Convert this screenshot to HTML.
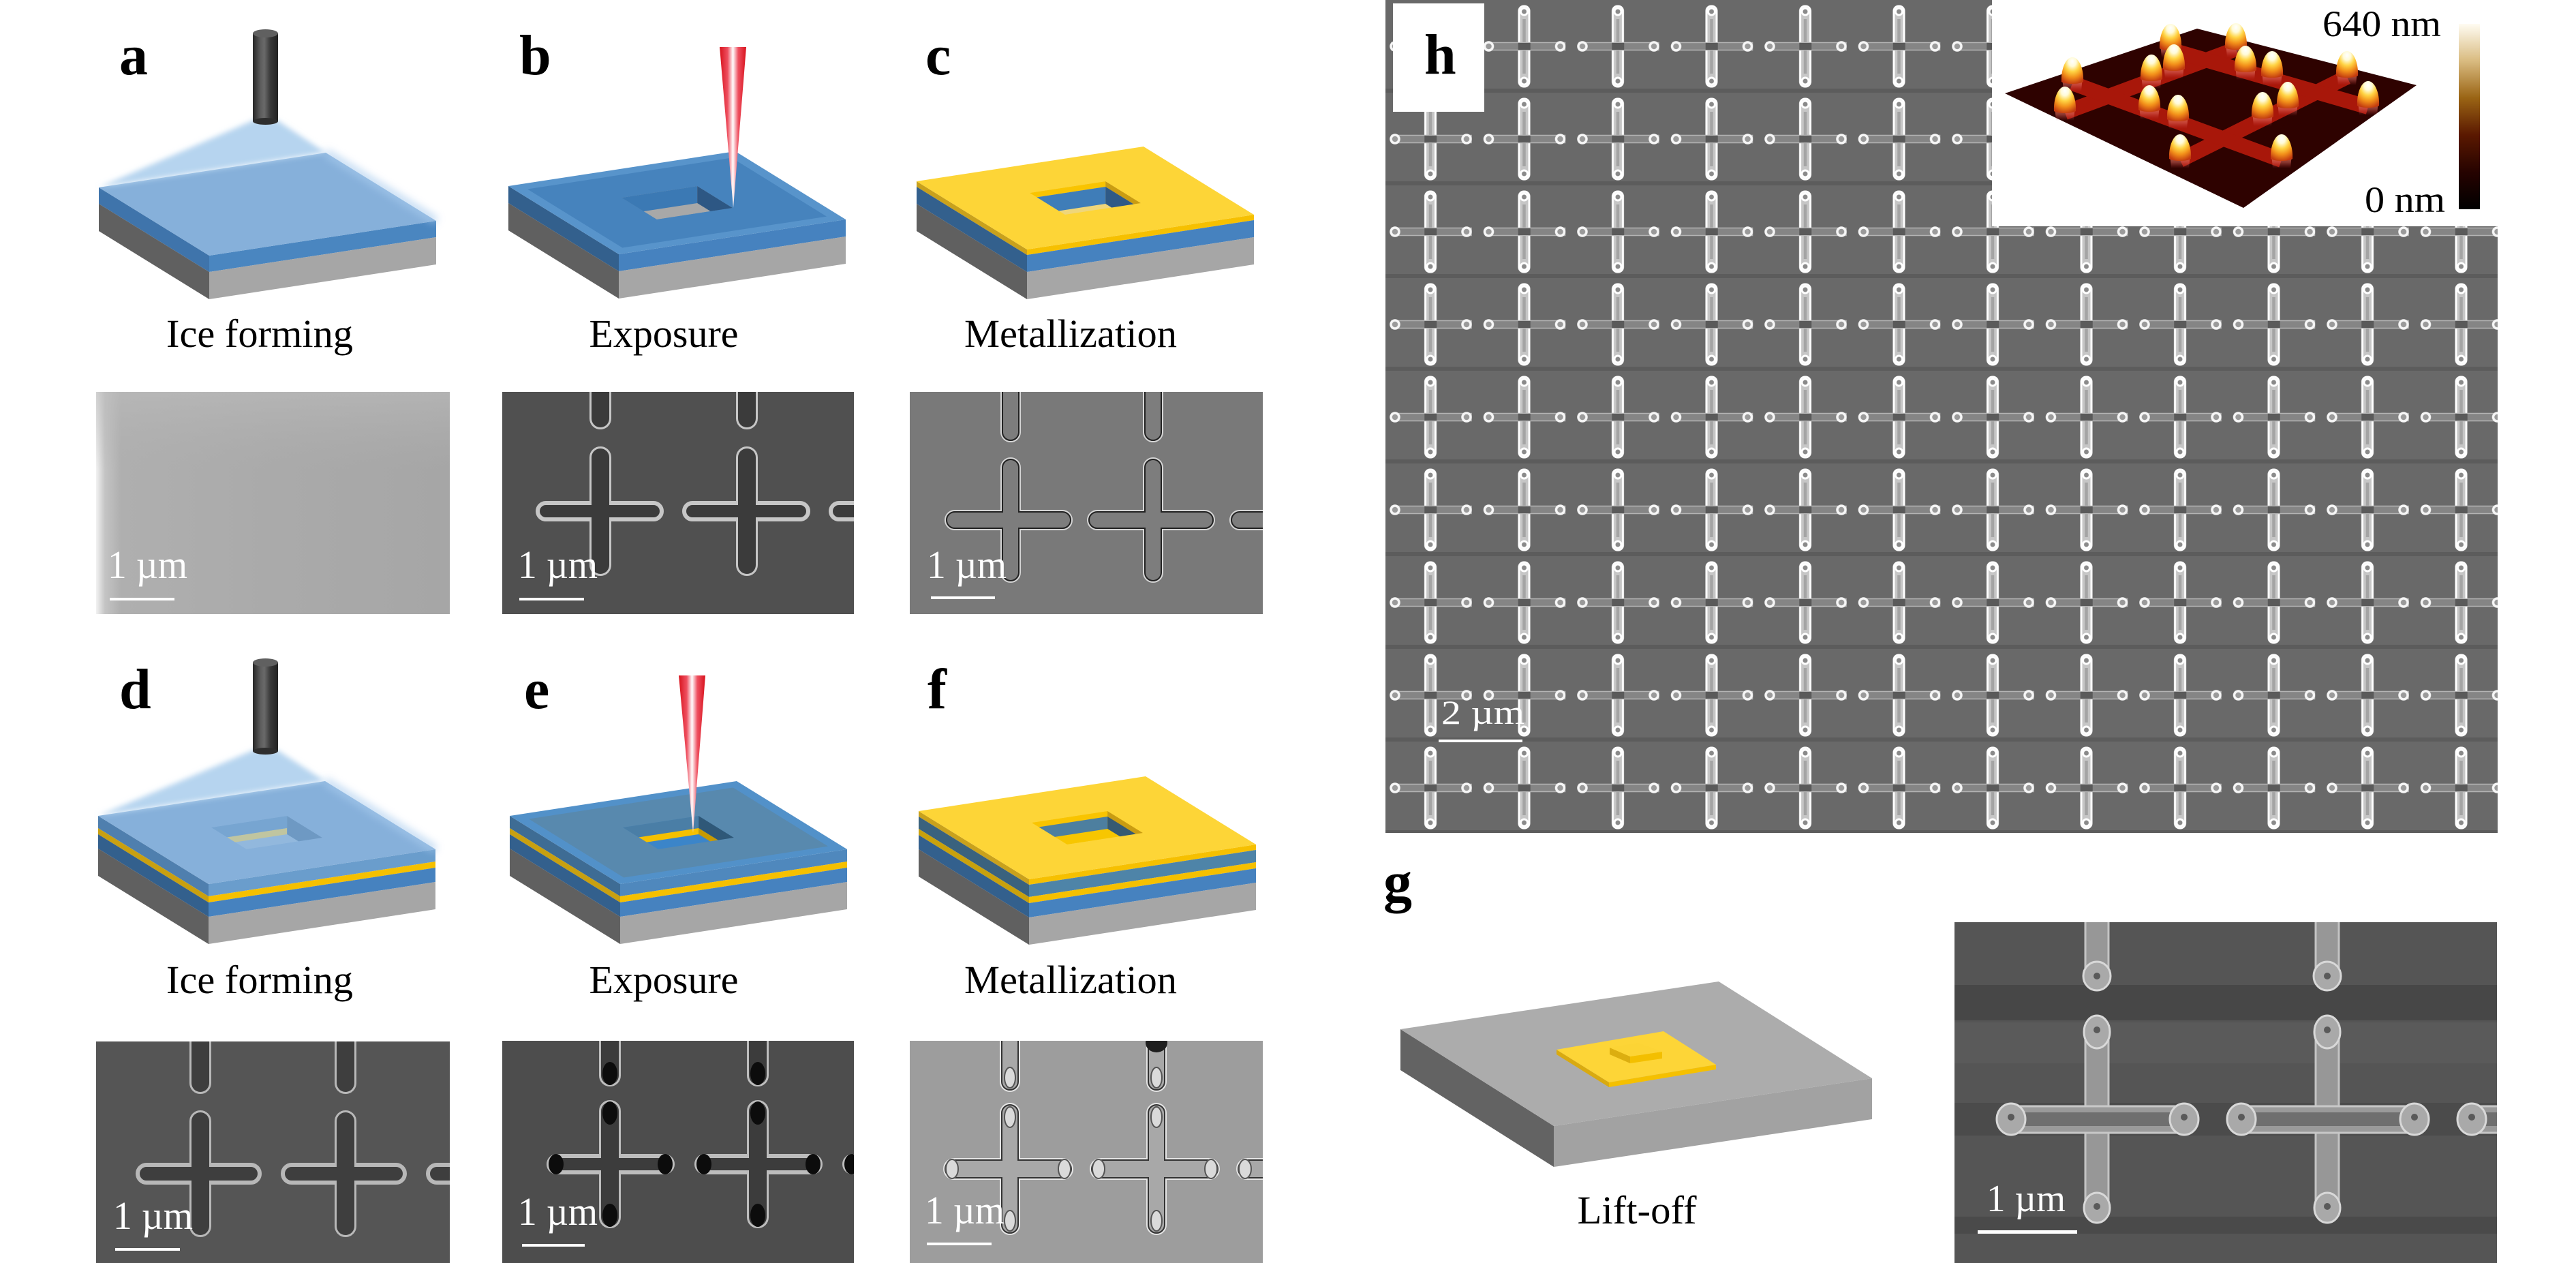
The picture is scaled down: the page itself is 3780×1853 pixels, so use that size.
<!DOCTYPE html>
<html><head><meta charset="utf-8"><style>
html,body{margin:0;padding:0;background:#fff;}
svg{display:block;}
text{font-family:"Liberation Serif","Times New Roman",serif;}
.lbl{font-weight:bold;font-size:84px;fill:#000;}
.cap{font-size:58px;fill:#000;}
.sb{font-size:58px;fill:#fff;}
</style></head><body>
<svg width="3780" height="1853" viewBox="0 0 3780 1853" xmlns="http://www.w3.org/2000/svg">
<defs>
 <linearGradient id="cyl" x1="0" x2="1" y1="0" y2="0">
  <stop offset="0" stop-color="#262626"/><stop offset="0.3" stop-color="#5c5c5c"/><stop offset="0.45" stop-color="#6a6a6a"/><stop offset="0.7" stop-color="#383838"/><stop offset="1" stop-color="#222"/>
 </linearGradient>
 <linearGradient id="laser" x1="0" x2="1" y1="0" y2="0">
  <stop offset="0" stop-color="#d8121c"/><stop offset="0.3" stop-color="#ee5060"/><stop offset="0.5" stop-color="#ffffff"/><stop offset="0.7" stop-color="#ee5060"/><stop offset="1" stop-color="#d8121c"/>
 </linearGradient>
 <filter id="blur4" x="-20%" y="-20%" width="140%" height="140%"><feGaussianBlur stdDeviation="4"/></filter>
 <filter id="blur6" x="-20%" y="-20%" width="140%" height="140%"><feGaussianBlur stdDeviation="6"/></filter>
 <linearGradient id="semA" x1="0" x2="1" y1="0" y2="0">
  <stop offset="0" stop-color="#f2f2f2"/><stop offset="0.025" stop-color="#c4c4c4"/><stop offset="0.07" stop-color="#afafaf"/><stop offset="0.5" stop-color="#aaaaaa"/><stop offset="1" stop-color="#a6a6a6"/>
 </linearGradient>
 <linearGradient id="semAv" x1="0" x2="0" y1="0" y2="1">
  <stop offset="0" stop-color="#bcbcbc" stop-opacity="0.6"/><stop offset="0.35" stop-color="#b0b0b0" stop-opacity="0"/><stop offset="1" stop-color="#b0b0b0" stop-opacity="0"/>
 </linearGradient>
 <radialGradient id="bump" cx="0.5" cy="0.22" r="0.8" fx="0.5" fy="0.15">
  <stop offset="0" stop-color="#ffffff"/><stop offset="0.22" stop-color="#fffbd8"/><stop offset="0.45" stop-color="#ffd444"/><stop offset="0.7" stop-color="#f2901a"/><stop offset="1" stop-color="#c23a10"/>
 </radialGradient>
 <linearGradient id="trail" x1="0" x2="0" y1="0" y2="1">
  <stop offset="0" stop-color="#f08a40" stop-opacity="0.95"/><stop offset="0.6" stop-color="#e06a60" stop-opacity="0.5"/><stop offset="1" stop-color="#d04040" stop-opacity="0"/>
 </linearGradient>
 <linearGradient id="cbar" x1="0" x2="0" y1="0" y2="1">
  <stop offset="0" stop-color="#fffcf2"/><stop offset="0.2" stop-color="#d9bb80"/><stop offset="0.4" stop-color="#9a6414"/><stop offset="0.6" stop-color="#5a1800"/><stop offset="0.8" stop-color="#260300"/><stop offset="1" stop-color="#000"/>
 </linearGradient>
 <clipPath id="hole"><polygon points="166,17 277.2,0 329,32 217.8,49"/></clipPath>
 <clipPath id="ca"><rect x="141" y="575" width="519" height="326"/></clipPath>
 <clipPath id="cb"><rect x="737" y="575" width="516" height="326"/></clipPath>
 <clipPath id="cc"><rect x="1335" y="575" width="518" height="326"/></clipPath>
 <clipPath id="cd"><rect x="141" y="1528" width="519" height="325"/></clipPath>
 <clipPath id="ce"><rect x="737" y="1527" width="516" height="326"/></clipPath>
 <clipPath id="cf"><rect x="1335" y="1527" width="518" height="326"/></clipPath>
 <clipPath id="cg"><rect x="2868" y="1353" width="796" height="500"/></clipPath>

 <g id="crB">
  <rect x="-13" y="-92" width="26" height="184" rx="13" fill="#3b3b3b" stroke="#c6c6c6" stroke-width="6"/>
  <rect x="-92" y="-12" width="182" height="24" rx="12" fill="#3b3b3b" stroke="#c6c6c6" stroke-width="6"/>
  <rect x="-13" y="-92" width="26" height="184" rx="13" fill="#3b3b3b"/>
 </g>
 <g id="crD">
  <rect x="-13" y="-90" width="26" height="180" rx="13" fill="#3e3e3e" stroke="#b8b8b8" stroke-width="6"/>
  <rect x="-92" y="-13" width="179" height="26" rx="13" fill="#3e3e3e" stroke="#b8b8b8" stroke-width="6"/>
  <rect x="-13" y="-90" width="26" height="180" rx="13" fill="#3e3e3e"/>
 </g>
 <g id="crE">
  <rect x="-13" y="-91" width="26" height="182" rx="13" fill="#3c3c3c" stroke="#bdbdbd" stroke-width="6"/>
  <rect x="-90" y="-12" width="182" height="24" rx="12" fill="#3c3c3c" stroke="#bdbdbd" stroke-width="6"/>
  <rect x="-13" y="-91" width="26" height="182" rx="13" fill="#3c3c3c"/>
  <ellipse cx="0" cy="-75" rx="11" ry="17" fill="#0c0c0c"/>
  <ellipse cx="0" cy="75" rx="11" ry="17" fill="#0c0c0c"/>
  <ellipse cx="-79" cy="0" rx="11" ry="15" fill="#0c0c0c"/>
  <ellipse cx="81" cy="0" rx="11" ry="15" fill="#0c0c0c"/>
 </g>
 <g id="crC">
  <rect x="-11" y="-88" width="22" height="176" rx="11" fill="none" stroke="#d6d6d6" stroke-width="8"/>
  <rect x="-93" y="-11" width="180" height="22" rx="11" fill="none" stroke="#d6d6d6" stroke-width="8"/>
  <rect x="-11" y="-88" width="22" height="176" rx="11" fill="none" stroke="#222" stroke-width="4"/>
  <rect x="-93" y="-11" width="180" height="22" rx="11" fill="none" stroke="#222" stroke-width="4"/>
  <rect x="-11" y="-88" width="22" height="176" rx="11" fill="#7d7d7d"/>
  <rect x="-93" y="-11" width="180" height="22" rx="11" fill="#7d7d7d"/>
 </g>
 <g id="crF">
  <rect x="-11" y="-93" width="22" height="186" rx="11" fill="none" stroke="#e6e6e6" stroke-width="8"/>
  <rect x="-94" y="-12" width="183" height="24" rx="12" fill="none" stroke="#e6e6e6" stroke-width="8"/>
  <rect x="-11" y="-93" width="22" height="186" rx="11" fill="none" stroke="#333" stroke-width="4"/>
  <rect x="-94" y="-12" width="183" height="24" rx="12" fill="none" stroke="#333" stroke-width="4"/>
  <rect x="-11" y="-93" width="22" height="186" rx="11" fill="#a8a8a8"/>
  <rect x="-94" y="-12" width="183" height="24" rx="12" fill="#a8a8a8"/>
  <ellipse cx="0" cy="-76" rx="8" ry="15" fill="#dadada" stroke="#555" stroke-width="2"/>
  <ellipse cx="0" cy="76" rx="8" ry="15" fill="#dadada" stroke="#555" stroke-width="2"/>
  <ellipse cx="-85" cy="0" rx="9" ry="14" fill="#dadada" stroke="#555" stroke-width="2"/>
  <ellipse cx="80" cy="0" rx="9" ry="14" fill="#dadada" stroke="#555" stroke-width="2"/>
 </g>
 <g id="crG">
  <rect x="-17" y="-145" width="34" height="291" rx="17" fill="#979797" stroke="#c4c4c4" stroke-width="3"/>
  <rect x="-143" y="-19" width="289" height="39" rx="14" fill="#9a9a9a" stroke="#c8c8c8" stroke-width="3"/>
  <rect x="-110" y="-10" width="228" height="20" fill="#6f6f6f"/>
  <ellipse cx="-126" cy="0" rx="21" ry="23" fill="#a9a9a9" stroke="#d8d8d8" stroke-width="3"/>
  <ellipse cx="128" cy="0" rx="21" ry="23" fill="#a9a9a9" stroke="#d8d8d8" stroke-width="3"/>
  <ellipse cx="0" cy="-128" rx="19" ry="24" fill="#a9a9a9" stroke="#d8d8d8" stroke-width="3"/>
  <ellipse cx="0" cy="130" rx="19" ry="22" fill="#a9a9a9" stroke="#d8d8d8" stroke-width="3"/>
  <circle cx="-126" cy="-3" r="5" fill="#5a5a5a"/><circle cx="128" cy="-3" r="5" fill="#5a5a5a"/>
  <circle cx="0" cy="-131" r="5" fill="#5a5a5a"/><circle cx="0" cy="128" r="5" fill="#5a5a5a"/>
 </g>
 <g id="bmp">
  <path d="M-15,2 L15,2 L13,24 L-13,24 Z" fill="url(#trail)"/>
  <path d="M-16,10 C-17,-8 -10,-26 0,-26 C10,-26 17,-8 16,10 C10,14 -10,14 -16,10 Z" fill="url(#bump)"/>
 </g>
 <pattern id="hp" patternUnits="userSpaceOnUse" x="2030.25" y="0" width="137.5" height="136">
  <rect width="137.5" height="136" fill="#696969"/>
  <rect y="130" width="137.5" height="10" fill="#5c5c5c"/>
  <rect x="61.25" y="9" width="15" height="118" rx="7" fill="#c6c6c6" stroke="#ffffff" stroke-width="3"/>
  <rect x="66.5" y="28" width="4.5" height="80" fill="#a4a4a4"/>
  <rect x="11.75" y="62.5" width="117" height="11" fill="#858585" stroke="#b4b4b4" stroke-width="1.5"/>
  <rect x="60" y="63" width="18" height="10" fill="#5a5a5a"/>
  <circle cx="68.75" cy="17" r="5" fill="#8a8a8a" stroke="#ffffff" stroke-width="3"/>
  <circle cx="68.75" cy="119" r="5" fill="#8a8a8a" stroke="#ffffff" stroke-width="3"/>
  <circle cx="16.75" cy="68" r="6" fill="#9a9a9a" stroke="#f6f6f6" stroke-width="3.5"/>
  <circle cx="121.75" cy="68" r="6" fill="#9a9a9a" stroke="#f6f6f6" stroke-width="3.5"/>
 </pattern>
</defs>

<rect width="3780" height="1853" fill="#fff"/>

<!-- ============ ROW 1 ============ -->
<!-- a -->
<g transform="translate(145,275)">
 <polygon points="0,0 162,100 162,124 0,24" fill="#3f74ab"/>
 <polygon points="162,100 495,49 495,73 162,124" fill="#4a86c0"/>
 <polygon points="0,24 162,124 162,164 0,64" fill="#606060"/>
 <polygon points="162,124 495,73 495,113 162,164" fill="#a6a6a6"/>
 <polygon points="0,0 333,-51 495,49 162,100" fill="#86b0da"/>
</g>
<polygon points="373,176 406,176 478,224 145,275" fill="#b6d4ef" filter="url(#blur4)"/>
<polyline points="478,224 640,324" fill="none" stroke="#a8cbee" stroke-width="10" opacity="0.8" filter="url(#blur6)"/>
<rect x="371" y="49" width="37" height="129" fill="url(#cyl)"/>
<ellipse cx="389.5" cy="178" rx="18.5" ry="5" fill="#2e2e2e"/>
<ellipse cx="389.5" cy="49" rx="18.5" ry="6" fill="#606060"/>

<!-- b -->
<g transform="translate(746,273)">
 <polygon points="0,0 162,100 162,125 0,25" fill="#33608d"/>
 <polygon points="162,100 495,49 495,74 162,125" fill="#4682bf"/>
 <polygon points="0,25 162,125 162,165 0,65" fill="#606060"/>
 <polygon points="162,125 495,74 495,114 162,165" fill="#a6a6a6"/>
 <polygon points="0,0 333,-51 495,49 162,100" fill="#5894cb"/>
 <polygon points="28,4.5 327.7,-41.5 467,44.6 167.3,90.5" fill="#4683bd"/>
 <g clip-path="url(#hole)">
  <polygon points="166,17 277.2,0 329,32 217.8,49" fill="#a8a8a8"/>
  <polygon points="166,17 277.2,0 277.2,25 166,42" fill="#3b79b4"/>
  <polygon points="277.2,0 329,32 329,57 277.2,25" fill="#2d5784"/>
 </g>
</g>
<polygon points="1056,69 1095,69 1076,305" fill="url(#laser)"/>

<!-- c -->
<g transform="translate(1345,266)">
 <polygon points="0,0 162,100 162,108 0,8" fill="#c9a11c"/>
 <polygon points="162,100 495,49 495,57 162,108" fill="#f6c000"/>
 <polygon points="0,8 162,108 162,133 0,33" fill="#33608d"/>
 <polygon points="162,108 495,57 495,82 162,133" fill="#4682bf"/>
 <polygon points="0,33 162,133 162,173 0,73" fill="#606060"/>
 <polygon points="162,133 495,82 495,122 162,173" fill="#a6a6a6"/>
 <polygon points="0,0 333,-51 495,49 162,100" fill="#fdd537"/>
 <g clip-path="url(#hole)">
  <polygon points="166,17 277.2,0 329,32 217.8,49" fill="#efd67a"/>
  <polygon points="166,17 277.2,0 277.2,8 166,25" fill="#f9c400"/>
  <polygon points="166,25 277.2,8 277.2,33 166,50" fill="#3f7db8"/>
  <polygon points="277.2,0 329,32 329,40 277.2,8" fill="#c99c12"/>
  <polygon points="277.2,8 329,40 329,65 277.2,33" fill="#2f5a86"/>
 </g>
</g>

<text class="lbl" x="175" y="109">a</text>
<text class="lbl" x="762" y="109">b</text>
<text class="lbl" x="1358" y="109">c</text>

<text class="cap" x="381" y="509" text-anchor="middle" textLength="274" lengthAdjust="spacingAndGlyphs">Ice forming</text>
<text class="cap" x="974" y="509" text-anchor="middle" textLength="219" lengthAdjust="spacingAndGlyphs">Exposure</text>
<text class="cap" x="1571" y="509" text-anchor="middle" textLength="312" lengthAdjust="spacingAndGlyphs">Metallization</text>

<!-- SEM a -->
<g clip-path="url(#ca)">
 <rect x="141" y="575" width="519" height="326" fill="url(#semA)"/>
 <rect x="141" y="575" width="519" height="326" fill="url(#semAv)"/>
</g>
<!-- SEM b -->
<g clip-path="url(#cb)">
 <rect x="737" y="575" width="516" height="326" fill="#505050"/>
 <use href="#crB" x="881" y="750"/><use href="#crB" x="1096" y="750"/><use href="#crB" x="1311" y="750"/>
 <use href="#crB" x="881" y="535"/><use href="#crB" x="1096" y="535"/>
</g>
<!-- SEM c -->
<g clip-path="url(#cc)">
 <rect x="1335" y="575" width="518" height="326" fill="#797979"/>
 <use href="#crC" x="1483" y="763"/><use href="#crC" x="1692" y="763"/><use href="#crC" x="1901" y="763"/>
 <use href="#crC" x="1483" y="557"/><use href="#crC" x="1692" y="557"/>
</g>
<text class="sb" x="158" y="848" textLength="117" lengthAdjust="spacingAndGlyphs">1 µm</text>
<rect x="161" y="877" width="95" height="4" fill="#fff"/>
<text class="sb" x="760" y="848" textLength="117" lengthAdjust="spacingAndGlyphs">1 µm</text>
<rect x="762" y="877" width="95" height="4" fill="#fff"/>
<text class="sb" x="1360" y="848" textLength="117" lengthAdjust="spacingAndGlyphs">1 µm</text>
<rect x="1366" y="875" width="94" height="4" fill="#fff"/>

<!-- ============ ROW 2 ============ -->
<!-- d -->
<g transform="translate(144,1197)">
 <polygon points="0,0 162,100 162,118 0,18" fill="#4f7fae"/>
 <polygon points="162,100 495,49 495,67 162,118" fill="#6a9dcc"/>
 <polygon points="0,18 162,118 162,127 0,27" fill="#c9a010"/>
 <polygon points="162,118 495,67 495,76 162,127" fill="#f5c000"/>
 <polygon points="0,27 162,127 162,148 0,48" fill="#33608d"/>
 <polygon points="162,127 495,76 495,97 162,148" fill="#4682bf"/>
 <polygon points="0,48 162,148 162,188 0,88" fill="#606060"/>
 <polygon points="162,148 495,97 495,137 162,188" fill="#a6a6a6"/>
 <polygon points="0,0 333,-51 495,49 162,100" fill="#86b0da"/>
 <g clip-path="url(#hole)" opacity="0.6">
  <polygon points="166,17 277.2,0 329,32 217.8,49" fill="#9bbfe0"/>
  <polygon points="166,17 277.2,0 277.2,18 166,35" fill="#6f9fcc"/>
  <polygon points="166,35 277.2,18 277.2,27 166,44" fill="#e8d47a"/>
  <polygon points="277.2,0 329,32 329,59 277.2,27" fill="#5f8bb5"/>
 </g>
</g>
<polygon points="373,1100 406,1100 477,1146 144,1197" fill="#b6d4ef" filter="url(#blur4)"/>
<polyline points="477,1146 639,1246" fill="none" stroke="#a8cbee" stroke-width="10" opacity="0.8" filter="url(#blur6)"/>
<rect x="371" y="972" width="37" height="130" fill="url(#cyl)"/>
<ellipse cx="389.5" cy="1102" rx="18.5" ry="5" fill="#2e2e2e"/>
<ellipse cx="389.5" cy="972" rx="18.5" ry="6" fill="#606060"/>

<!-- e -->
<g transform="translate(748,1197)">
 <polygon points="0,0 162,100 162,118 0,18" fill="#3e6c94"/>
 <polygon points="162,100 495,49 495,67 162,118" fill="#4f88bd"/>
 <polygon points="0,18 162,118 162,127 0,27" fill="#c9a010"/>
 <polygon points="162,118 495,67 495,76 162,127" fill="#f5c000"/>
 <polygon points="0,27 162,127 162,148 0,48" fill="#33608d"/>
 <polygon points="162,127 495,76 495,97 162,148" fill="#4682bf"/>
 <polygon points="0,48 162,148 162,188 0,88" fill="#606060"/>
 <polygon points="162,148 495,97 495,137 162,188" fill="#a6a6a6"/>
 <polygon points="0,0 333,-51 495,49 162,100" fill="#5291c9"/>
 <polygon points="28,4.5 327.7,-41.5 467,44.6 167.3,90.5" fill="#5889ae"/>
 <g clip-path="url(#hole)">
  <polygon points="166,17 277.2,0 329,32 217.8,49" fill="#3b85c9"/>
  <polygon points="166,17 277.2,0 277.2,18 166,35" fill="#4a7ea6"/>
  <polygon points="166,35 277.2,18 277.2,27 166,44" fill="#f5c000"/>
  <polygon points="277.2,0 329,32 329,50 277.2,18" fill="#2f5878"/>
  <polygon points="277.2,18 329,50 329,59 277.2,27" fill="#c89a00"/>
 </g>
</g>
<polygon points="996,991 1035,991 1017,1222" fill="url(#laser)"/>

<!-- f -->
<g transform="translate(1348,1190)">
 <polygon points="0,0 162,100 162,108 0,8" fill="#c9a11c"/>
 <polygon points="162,100 495,49 495,57 162,108" fill="#f6c000"/>
 <polygon points="0,8 162,108 162,126 0,26" fill="#3a627e"/>
 <polygon points="162,108 495,57 495,75 162,126" fill="#4e84a8"/>
 <polygon points="0,26 162,126 162,135 0,35" fill="#c9a10c"/>
 <polygon points="162,126 495,75 495,84 162,135" fill="#f5c000"/>
 <polygon points="0,35 162,135 162,156 0,56" fill="#33608d"/>
 <polygon points="162,135 495,84 495,105 162,156" fill="#4682bf"/>
 <polygon points="0,56 162,156 162,196 0,96" fill="#606060"/>
 <polygon points="162,156 495,105 495,145 162,196" fill="#a6a6a6"/>
 <polygon points="0,0 333,-51 495,49 162,100" fill="#fdd537"/>
 <g clip-path="url(#hole)">
  <polygon points="166,17 277.2,0 329,32 217.8,49" fill="#f7c600"/>
  <polygon points="166,17 277.2,0 277.2,8 166,25" fill="#f9c400"/>
  <polygon points="166,25 277.2,8 277.2,26 166,43" fill="#4d7f9f"/>
  <polygon points="277.2,0 329,32 329,40 277.2,8" fill="#c99c12"/>
  <polygon points="277.2,8 329,40 329,58 277.2,26" fill="#365a72"/>
 </g>
</g>

<text class="lbl" x="175" y="1039">d</text>
<text class="lbl" x="769" y="1039">e</text>
<text class="lbl" x="1361" y="1039">f</text>

<text class="cap" x="381" y="1457" text-anchor="middle" textLength="274" lengthAdjust="spacingAndGlyphs">Ice forming</text>
<text class="cap" x="974" y="1457" text-anchor="middle" textLength="219" lengthAdjust="spacingAndGlyphs">Exposure</text>
<text class="cap" x="1571" y="1457" text-anchor="middle" textLength="312" lengthAdjust="spacingAndGlyphs">Metallization</text>

<!-- SEM d -->
<g clip-path="url(#cd)">
 <rect x="141" y="1528" width="519" height="325" fill="#555555"/>
 <use href="#crD" x="294" y="1722"/><use href="#crD" x="507" y="1722"/><use href="#crD" x="720" y="1722"/>
 <use href="#crD" x="294" y="1512"/><use href="#crD" x="507" y="1512"/>
</g>
<!-- SEM e -->
<g clip-path="url(#ce)">
 <rect x="737" y="1527" width="516" height="326" fill="#4d4d4d"/>
 <use href="#crE" x="895" y="1708"/><use href="#crE" x="1112" y="1708"/><use href="#crE" x="1329" y="1708"/>
 <use href="#crE" x="895" y="1500"/><use href="#crE" x="1112" y="1500"/>
</g>
<!-- SEM f -->
<g clip-path="url(#cf)">
 <rect x="1335" y="1527" width="518" height="326" fill="#9d9d9d"/>
 <use href="#crF" x="1482" y="1715"/><use href="#crF" x="1697" y="1715"/><use href="#crF" x="1912" y="1715"/>
 <use href="#crF" x="1482" y="1505"/><use href="#crF" x="1697" y="1505"/>
 <ellipse cx="1697" cy="1530" rx="16" ry="14" fill="#1e1e1e"/>
</g>
<text class="sb" x="166" y="1803" textLength="117" lengthAdjust="spacingAndGlyphs">1 µm</text>
<rect x="169" y="1831" width="95" height="4" fill="#fff"/>
<text class="sb" x="760" y="1797" textLength="117" lengthAdjust="spacingAndGlyphs">1 µm</text>
<rect x="766" y="1825" width="92" height="4" fill="#fff"/>
<text class="sb" x="1357" y="1795" textLength="117" lengthAdjust="spacingAndGlyphs">1 µm</text>
<rect x="1360" y="1823" width="95" height="4" fill="#fff"/>

<!-- ============ h ============ -->
<rect x="2033" y="0" width="1632" height="1222" fill="url(#hp)"/>
<rect x="2044" y="5" width="134" height="159" fill="#fff"/>
<text class="lbl" x="2090" y="108">h</text>
<text class="sb" x="2115" y="1062" style="font-size:50px" textLength="122" lengthAdjust="spacingAndGlyphs">2 µm</text>
<rect x="2111" y="1085" width="123" height="4" fill="#fff"/>

<!-- AFM inset -->
<rect x="2923" y="0" width="742" height="332" fill="#fff"/>
<polygon points="2942,137 3224,42 3546,125 3292,305" fill="#2e0200"/>
<g stroke="#a8170a" stroke-width="22" fill="none">
 <line x1="3030" y1="165" x2="3281" y2="72"/>
 <line x1="3199" y1="235" x2="3444" y2="113"/>
 <line x1="3041" y1="122" x2="3348" y2="235"/>
 <line x1="3185" y1="73" x2="3475" y2="157"/>
</g>
<use href="#bmp" x="3281" y="60"/><use href="#bmp" x="3185" y="61"/>
<use href="#bmp" x="3190" y="91"/><use href="#bmp" x="3295" y="93"/>
<use href="#bmp" x="3334" y="101"/><use href="#bmp" x="3444" y="101"/>
<use href="#bmp" x="3157" y="106"/><use href="#bmp" x="3041" y="110"/>
<use href="#bmp" x="3475" y="145"/><use href="#bmp" x="3357" y="146"/>
<use href="#bmp" x="3154" y="151"/><use href="#bmp" x="3030" y="153"/>
<use href="#bmp" x="3320" y="161"/><use href="#bmp" x="3196" y="165"/>
<use href="#bmp" x="3199" y="223"/><use href="#bmp" x="3348" y="223"/>
<rect x="3608" y="35" width="31" height="272" fill="url(#cbar)"/>
<text x="3408" y="53" style="font-size:54px" fill="#000" textLength="174" lengthAdjust="spacingAndGlyphs">640 nm</text>
<text x="3470" y="311" style="font-size:54px" fill="#000" textLength="118" lengthAdjust="spacingAndGlyphs">0 nm</text>

<!-- ============ g ============ -->
<text class="lbl" x="2030" y="1322">g</text>
<polygon points="2055,1510 2280,1652 2280,1712 2055,1570" fill="#636363"/>
<polygon points="2280,1652 2747,1582 2747,1642 2280,1712" fill="#a2a2a2"/>
<polygon points="2055,1510 2522,1440 2747,1582 2280,1652" fill="#acacac"/>
<polygon points="2284,1540 2361,1588 2361,1595 2284,1547" fill="#d9aa10"/>
<polygon points="2361,1588 2518,1562 2518,1569 2361,1595" fill="#f5c000"/>
<polygon points="2284,1540 2441,1513 2518,1562 2361,1588" fill="#fdd537"/>
<polygon points="2362,1537 2392,1550 2392,1560 2362,1547" fill="#dcae10"/>
<polygon points="2392,1550 2439,1543 2439,1553 2392,1560" fill="#f3bf00"/>
<polygon points="2362,1537 2404,1530 2439,1543 2392,1550" fill="#fcd435"/>
<text class="cap" x="2402" y="1795" text-anchor="middle" textLength="175" lengthAdjust="spacingAndGlyphs">Lift-off</text>

<!-- SEM g -->
<g clip-path="url(#cg)">
 <rect x="2868" y="1353" width="796" height="500" fill="#555555"/>
 <rect x="2868" y="1500" width="796" height="60" fill="#5a5a5a"/>
 <rect x="2868" y="1445" width="796" height="52" fill="#474747"/>
 <rect x="2868" y="1618" width="796" height="48" fill="#4b4b4b"/>
 <rect x="2868" y="1785" width="796" height="25" fill="#4a4a4a"/>
 <use href="#crG" x="3077" y="1642"/><use href="#crG" x="3415" y="1642"/><use href="#crG" x="3753" y="1642"/>
 <rect x="3060" y="1320" width="34" height="125" rx="17" fill="#979797" stroke="#c4c4c4" stroke-width="3"/>
 <ellipse cx="3077" cy="1432" rx="20" ry="21" fill="#a9a9a9" stroke="#d8d8d8" stroke-width="3"/>
 <circle cx="3077" cy="1432" r="5" fill="#5a5a5a"/>
 <rect x="3398" y="1320" width="34" height="125" rx="17" fill="#979797" stroke="#c4c4c4" stroke-width="3"/>
 <ellipse cx="3415" cy="1432" rx="20" ry="21" fill="#a9a9a9" stroke="#d8d8d8" stroke-width="3"/>
 <circle cx="3415" cy="1432" r="5" fill="#5a5a5a"/>
</g>
<text class="sb" x="2915" y="1777" style="font-size:56px" textLength="116" lengthAdjust="spacingAndGlyphs">1 µm</text>
<rect x="2902" y="1805" width="146" height="5" fill="#fff"/>
</svg>
</body></html>
